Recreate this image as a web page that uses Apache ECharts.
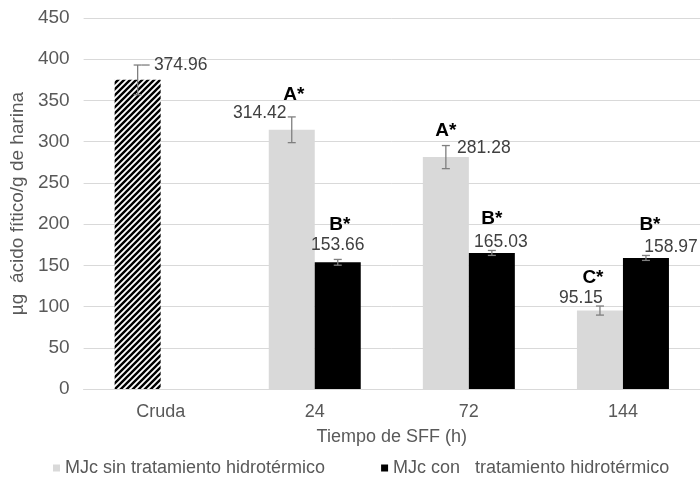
<!DOCTYPE html>
<html>
<head>
<meta charset="utf-8">
<script src="https://cdn.jsdelivr.net/npm/echarts@6/dist/echarts.min.js"></script>
<style>
  html, body { margin: 0; padding: 0; background: #fff; }
  #chart { width: 700px; height: 489px; }
</style>
</head>
<body>
<div id="chart"></div>
<script>
// Phytic acid content by SFF time
const categories = ['Cruda', '24', '72', '144'];
const seriesNames = ['MJc sin tratamiento hidrotérmico', 'MJc con   tratamiento hidrotérmico'];
const sinValues = [374.96, 314.42, 281.28, 95.15];
const conValues = [null, 153.66, 165.03, 158.97];
const sinErrors = [18, 15.6, 14, 5.5];
const conErrors = [null, 3.5, 3, 3];
const sinLetters = ['', 'A*', 'A*', 'C*'];
const conLetters = ['', 'B*', 'B*', 'B*'];
const yTicks = { min: 0, max: 450, interval: 50 };

// label placement (px, relative to the top of each error bar)
const sinValueShift = [[43, 0], [-32, -4], [38, 3], [-19, -8]];
const sinLetterShift = [[0, 0], [2, -22], [0, -15], [-7, -28]];
const conValueShift = [[0, 0], [0, -14], [9, -8], [25, -8]];
const conLetterShift = [[0, 0], [2, -35], [0, -32], [4, -31]];
const sinLeader = [12, 0, 0, 0];
const conLeader = [0, 0, 0, 0];

const BAR_W = 46;
const FONT = '"Liberation Sans", Arial, sans-serif';

// diagonal hatch for the raw-flour bar
function hatch() {
  const s = 6;
  const c = document.createElement('canvas');
  c.width = s; c.height = s;
  const g = c.getContext('2d');
  g.fillStyle = '#fff';
  g.fillRect(0, 0, s, s);
  g.strokeStyle = '#000';
  g.lineWidth = 2.4;
  g.beginPath();
  g.moveTo(0, s); g.lineTo(s, 0);
  g.moveTo(-s / 2, s / 2); g.lineTo(s / 2, -s / 2);
  g.moveTo(s / 2, s * 1.5); g.lineTo(s * 1.5, s / 2);
  g.stroke();
  return c;
}

const chart = echarts.init(document.getElementById('chart'), null, { renderer: 'canvas' });

function errorSeries(values, errors, letters, valueShift, letterShift, leader, side) {
  const data = values.map((v, i) => [i, v, errors[i]]).filter(d => d[1] != null);
  return {
    type: 'custom',
    silent: true,
    z: 5,
    data: data,
    renderItem: function (params, api) {
      const i = api.value(0);
      const v = api.value(1);
      const e = api.value(2);
      const c = api.coord([i, v]);
      const x = c[0] + side * BAR_W / 2;
      const top = api.coord([i, v + e])[1];
      const bot = api.coord([i, v - e])[1];
      const cap = 4;
      const ls = { stroke: '#7f7f7f', lineWidth: 1.3 };
      const vs = valueShift[i], lt = letterShift[i];
      const children = [
        { type: 'line', shape: { x1: x, y1: top, x2: x, y2: bot }, style: ls },
        { type: 'line', shape: { x1: x - cap, y1: top, x2: x + cap, y2: top }, style: ls },
        { type: 'line', shape: { x1: x - cap, y1: bot, x2: x + cap, y2: bot }, style: ls },
        {
          type: 'text',
          style: {
            x: x + vs[0], y: top + vs[1],
            text: v.toFixed(2),
            fill: '#404040',
            font: '17.5px ' + FONT,
            align: 'center', verticalAlign: 'middle'
          }
        }
      ];
      if (leader[i]) {
        children.push({ type: 'line', shape: { x1: x + cap, y1: top, x2: x + leader[i], y2: top }, style: ls });
      }
      if (letters[i]) {
        children.push({
          type: 'text',
          style: {
            x: x + lt[0], y: top + lt[1],
            text: letters[i],
            fill: '#000',
            font: 'bold 19px ' + FONT,
            align: 'center', verticalAlign: 'middle'
          }
        });
      }
      return { type: 'group', children: children };
    }
  };
}

const sinData = sinValues.map((v, i) => i === 0
  ? { value: v, itemStyle: { color: { image: hatch(), repeat: 'repeat' } } }
  : v);

chart.setOption({
  animation: false,
  backgroundColor: '#fff',
  textStyle: { fontFamily: FONT },
  grid: { left: 81, top: 18, width: 622, height: 371, containLabel: false },
  legend: {
    data: seriesNames,
    left: 53,
    top: 459,
    padding: 0,
    icon: 'rect',
    itemWidth: 7,
    itemHeight: 7,
    itemGap: 56,
    textStyle: { fontSize: 18, color: '#595959', fontFamily: FONT }
  },
  xAxis: {
    type: 'category',
    data: categories,
    axisTick: { show: false },
    axisLine: { lineStyle: { color: '#d9d9d9', width: 1 } },
    axisLabel: { fontSize: 18, color: '#595959', margin: 14, fontFamily: FONT },
    name: 'Tiempo de SFF (h)',
    nameLocation: 'middle',
    nameGap: 39,
    nameTextStyle: { fontSize: 18, color: '#595959', fontFamily: FONT }
  },
  yAxis: {
    type: 'value',
    min: yTicks.min,
    max: yTicks.max,
    interval: yTicks.interval,
    axisLine: { show: false },
    axisTick: { show: false },
    splitLine: { lineStyle: { color: '#d9d9d9', width: 1 } },
    axisLabel: { fontSize: 19, color: '#595959', margin: 14, fontFamily: FONT },
    name: 'µg  ácido fítico/g de harina',
    nameLocation: 'middle',
    nameGap: 54,
    nameTextStyle: { fontSize: 19, color: '#595959', fontFamily: FONT }
  },
  series: [
    {
      name: seriesNames[0],
      type: 'bar',
      data: sinData,
      barWidth: BAR_W,
      barGap: '0%',
      itemStyle: { color: '#d9d9d9' }
    },
    {
      name: seriesNames[1],
      type: 'bar',
      data: conValues,
      barWidth: BAR_W,
      barGap: '0%',
      itemStyle: { color: '#000000' }
    },
    errorSeries(sinValues, sinErrors, sinLetters, sinValueShift, sinLetterShift, sinLeader, -1),
    errorSeries(conValues, conErrors, conLetters, conValueShift, conLetterShift, conLeader, 1)
  ]
});
</script>
</body>
</html>
